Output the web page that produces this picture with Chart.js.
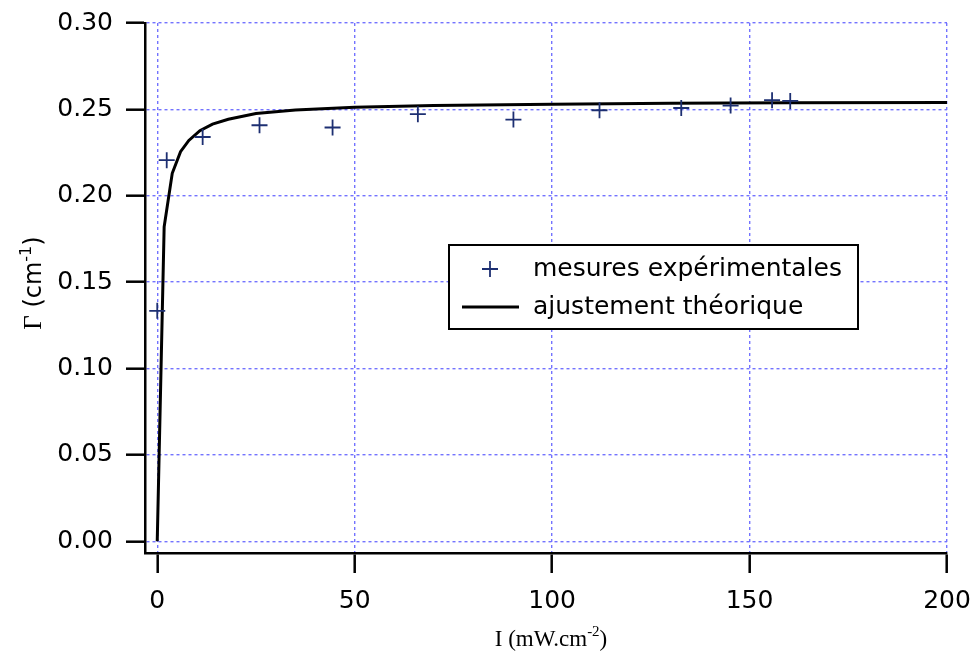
<!DOCTYPE html>
<html>
<head>
<meta charset="utf-8">
<script src="https://cdn.jsdelivr.net/npm/chart.js@4.4.1/dist/chart.umd.min.js"></script>
<style>
    html, body { margin: 0; padding: 0; background: #ffffff; }
    #contenedor { width: 976px; height: 655px; }
</style>
</head>
<body>
<div id="contenedor"><canvas id="GC1" width="976" height="655"></canvas></div>
<script>
// valeurs
var intensiteMesure = [0, 2.4, 11.5, 25.9, 44.4, 66.0, 90.2, 112.0, 132.7, 145.2, 155.7, 160.3];
var gammaMesure = [0.1334, 0.2206, 0.2340, 0.2408, 0.2395, 0.2472, 0.2441, 0.2495, 0.2508, 0.2522, 0.2553, 0.2549];

var intensiteAjust = [0, 1.75, 3.8, 5.9, 8, 10.8, 14, 18, 25, 35, 50, 70, 100, 130, 160, 200];
var gammaAjust = [0, 0.182, 0.213, 0.2255, 0.2320, 0.2377, 0.2415, 0.2443, 0.2476, 0.2497, 0.2512, 0.2522, 0.2530, 0.2535, 0.2538, 0.2540];

var ticksX = [0, 50, 100, 150, 200];
var ticksY = [0, 0.05, 0.10, 0.15, 0.20, 0.25, 0.30];

var labelMesure = "mesures expérimentales";
var labelAjust = "ajustement théorique";

var COULEUR_POINTS = "#1d2f72";
var COULEUR_GRILLE = "#7373ff";
var POLICE = "'DejaVu Sans', sans-serif";
var POLICE_SERIF = "'Liberation Serif', 'DejaVu Serif', serif";

var aPoints = function (xs, ys) {
    var out = [];
    for (var i = 0; i < xs.length; i++) out.push({ x: xs[i], y: ys[i] });
    return out;
}

// texte avec exposant, centre sur (0,0) dans le repere courant
var TexteExposant = function (ctx, morceaux) {
    var total = 0;
    morceaux.forEach(function (m) { ctx.font = m.font; m.w = ctx.measureText(m.t).width; total += m.w; });
    var x = -total / 2;
    morceaux.forEach(function (m) {
        ctx.font = m.font;
        ctx.fillText(m.t, x, m.dy || 0);
        x += m.w;
    });
}

var pluginTitres = {
    id: "titres",
    afterDraw: function (chart) {
        var ctx = chart.ctx;
        ctx.save();
        ctx.fillStyle = "#000000";
        ctx.textAlign = "left";
        ctx.textBaseline = "alphabetic";
        // titre axe x
        ctx.save();
        ctx.translate(551, 646);
        TexteExposant(ctx, [
            { t: "I (mW.cm", font: "23px " + POLICE_SERIF },
            { t: "-2", font: "15px " + POLICE_SERIF, dy: -10 },
            { t: ")", font: "23px " + POLICE_SERIF }
        ]);
        ctx.restore();
        // titre axe y
        ctx.save();
        ctx.translate(41, 283);
        ctx.rotate(-Math.PI / 2);
        TexteExposant(ctx, [
            { t: "Γ", font: "25px " + POLICE_SERIF },
            { t: " (cm", font: "24px " + POLICE },
            { t: "-1", font: "16px " + POLICE, dy: -10 },
            { t: ")", font: "24px " + POLICE }
        ]);
        ctx.restore();
        ctx.restore();
    }
}

var pluginLegende = {
    id: "legendeCadre",
    afterDraw: function (chart) {
        var ctx = chart.ctx;
        var ds0 = chart.data.datasets[0];
        var ds1 = chart.data.datasets[1];
        ctx.save();
        ctx.fillStyle = "#ffffff";
        ctx.fillRect(449, 245, 409, 84);
        ctx.strokeStyle = "#000000";
        ctx.lineWidth = 2;
        ctx.strokeRect(449, 245, 409, 84);
        // croix
        ctx.strokeStyle = ds0.borderColor;
        ctx.lineWidth = ds0.borderWidth;
        ctx.beginPath();
        ctx.moveTo(490 - ds0.pointRadius, 269); ctx.lineTo(490 + ds0.pointRadius, 269);
        ctx.moveTo(490, 269 - ds0.pointRadius); ctx.lineTo(490, 269 + ds0.pointRadius);
        ctx.stroke();
        // trait
        ctx.strokeStyle = ds1.borderColor;
        ctx.lineWidth = ds1.borderWidth;
        ctx.beginPath();
        ctx.moveTo(462, 307); ctx.lineTo(519, 307);
        ctx.stroke();
        ctx.fillStyle = "#000000";
        ctx.font = "25px " + POLICE;
        ctx.textBaseline = "middle";
        ctx.fillText(ds0.label, 533, 269);
        ctx.fillText(ds1.label, 533, 307);
        ctx.restore();
    }
}

new Chart(document.getElementById("GC1"), {
    type: "line",
    data: {
        datasets: [{
            type: "scatter",
            label: labelMesure,
            data: aPoints(intensiteMesure, gammaMesure),
            showLine: false,
            pointStyle: "cross",
            pointRadius: 8,
            pointHoverRadius: 8,
            borderWidth: 1.8,
            borderColor: COULEUR_POINTS,
            backgroundColor: COULEUR_POINTS,
            order: 0
        }, {
            label: labelAjust,
            data: aPoints(intensiteAjust, gammaAjust),
            borderColor: "#000000",
            borderWidth: 3,
            pointRadius: 0,
            tension: 0,
            fill: false,
            order: 1
        }]
    },
    options: {
        responsive: false,
        animation: false,
        events: [],
        layout: { padding: { left: 0, top: 23, right: 29, bottom: 0 } },
        plugins: {
            legend: { display: false },
            tooltip: { enabled: false }
        },
        scales: {
            x: {
                type: "linear",
                min: -3.1,
                max: 200,
                afterBuildTicks: function (axis) { axis.ticks = ticksX.map(function (v) { return { value: v }; }); },
                afterFit: function (axis) {
                    axis.height = 102;
                    axis.paddingLeft = 0;
                    axis.paddingRight = 0;
                },
                grid: {
                    color: COULEUR_GRILLE,
                    lineWidth: 1.4,
                    drawTicks: true,
                    tickLength: 20,
                    tickColor: "#000000",
                    tickWidth: 2.5
                },
                border: { display: true, color: "#000000", width: 2.5, dash: [3, 3] },
                ticks: {
                    color: "#000000",
                    font: { family: POLICE, size: 25 },
                    padding: 13,
                    maxRotation: 0,
                    callback: function (v) { return String(v); }
                }
            },
            y: {
                type: "linear",
                min: -0.0068,
                max: 0.30,
                afterBuildTicks: function (axis) { axis.ticks = ticksY.map(function (v) { return { value: v }; }); },
                afterFit: function (axis) {
                    axis.width = 145;
                    axis.paddingTop = 0;
                    axis.paddingBottom = 0;
                },
                grid: {
                    color: COULEUR_GRILLE,
                    lineWidth: 1.4,
                    drawTicks: true,
                    tickLength: 19,
                    tickColor: "#000000",
                    tickWidth: 2.5
                },
                border: { display: true, color: "#000000", width: 2.5, dash: [3, 3] },
                ticks: {
                    color: "#000000",
                    font: { family: POLICE, size: 25 },
                    padding: 13,
                    callback: function (v) { return v.toFixed(2); }
                }
            }
        }
    },
    plugins: [pluginTitres, pluginLegende]
});
</script>
</body>
</html>
